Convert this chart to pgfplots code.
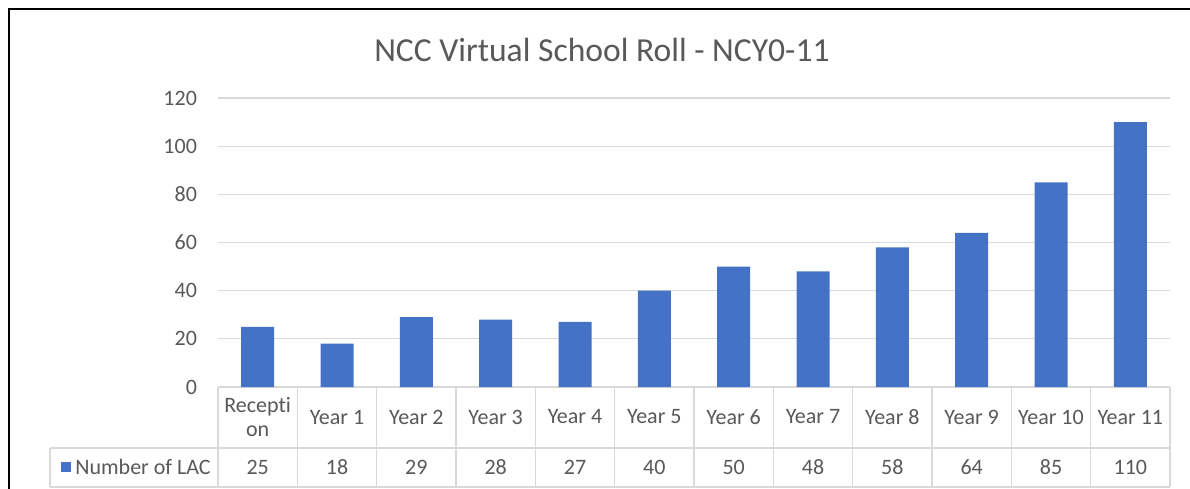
\documentclass[border=0pt]{standalone}
\usepackage{pgfplots}
\pgfplotsset{compat=1.18}
\usepackage{pgfplotstable}
\usepackage{fontspec}
\setmainfont{Carlito}[Ligatures=NoCommon]
\definecolor{barblue}{HTML}{4472C4}
\definecolor{txt}{HTML}{595959}
\definecolor{gridc}{HTML}{D9D9D9}
\pgfplotstableread{
x y
0 25
1 18
2 29
3 28
4 27
5 40
6 50
7 48
8 58
9 64
10 85
11 110
}\data
\newcommand\tfont{\fontsize{11}{12}\selectfont}
\begin{document}
\begin{tikzpicture}
\begin{scope}[x=0.5pt,y=-0.5pt]
\useasboundingbox (0,0) rectangle (1190,488);
\fill[white] (0,0) rectangle (1190,488);
\draw[black, line width=1.2pt] (9,495) -- (9,9) -- (1195,9);
\node[txt, font=\fontsize{16.8}{19}\selectfont] at (602,50) {NCC Virtual School Roll - NCY0-11};
\draw[gridc, line width=0.6pt] (50,448) -- (1170,448);
\draw[gridc, line width=0.6pt] (50,487) -- (1170,487);
\draw[gridc, line width=0.6pt] (50,448) -- (50,487);
\foreach \i in {0,...,12} \draw[gridc, line width=0.6pt] ({218+\i*79.33},387) -- ({218+\i*79.33},487);
\fill[barblue] (61,462) rectangle (71,472);
\node[txt, anchor=west, font=\tfont, inner sep=0pt] at (75,467) {Number of LAC};
\end{scope}
\begin{axis}[
  at={(109pt,-193.5pt)}, anchor=south west,
  scale only axis, width=476pt, height=144.5pt,
  xmin=-0.5, xmax=11.5, ymin=0, ymax=120,
  ytick={0,20,...,120}, xtick={0,...,11},
  xticklabels={{Recepti\\on},Year 1,Year 2,Year 3,Year 4,Year 5,Year 6,Year 7,Year 8,Year 9,Year 10,Year 11},
  ymajorgrids, grid style={gridc, line width=0.6pt},
  axis line style={draw=none}, major tick length=0pt,
  clip=false,
  /pgf/number format/assume math mode=true,
  ticklabel style={font=\tfont, text=txt},
  yticklabel style={anchor=east, xshift=-7pt},
  xticklabel style={anchor=center, yshift=-15pt, align=center},
]
\addplot[ybar, bar width=16.5pt, fill=barblue, draw=none] table[x=x,y=y]{\data};
\addplot[draw=none, mark=none, nodes near coords, nodes near coords align={center},
  every node near coord/.append style={anchor=center, text=txt, font=\tfont},
  point meta=explicit] table[x=x, y expr=-33.2, meta=y]{\data};
\end{axis}
\end{tikzpicture}
\end{document}
